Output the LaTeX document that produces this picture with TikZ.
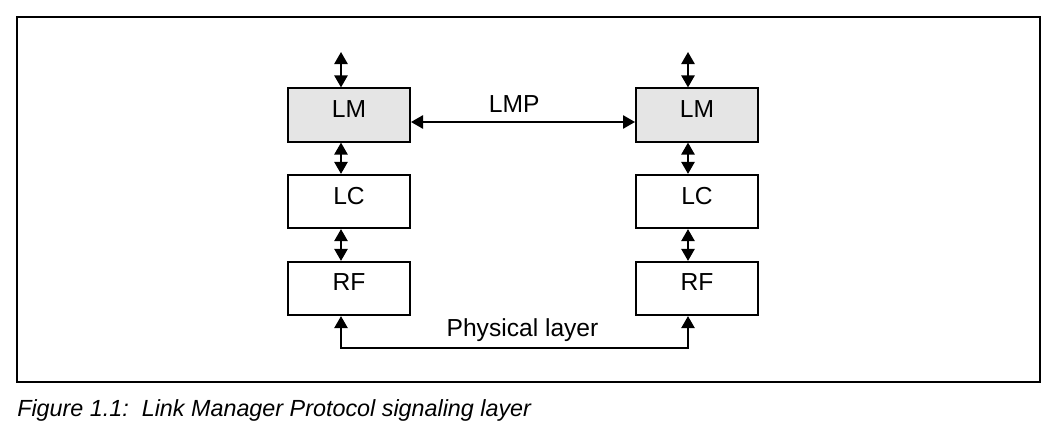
\documentclass[tikz,border=0pt]{standalone}
\usepackage{fontspec}
\setmainfont{Liberation Sans}
\usetikzlibrary{arrows.meta}
\tikzset{
  block/.style={
    rectangle,
    draw,
    draw=black,
    line width=1.4pt,
    minimum width=3.05cm,
    minimum height=1.33cm,
    text depth=0.3cm,
    inner sep=0pt
  }
}
\tikzstyle{arrow} = [{Triangle[length=0.3cm,width=0.33cm]}-{Triangle[length=0.3cm,width=0.33cm]}, line width=1.4pt]
\def\lbl#1{\fontsize{17.5}{20}\selectfont{#1}}

\begin{document}
\begin{tikzpicture}[x=0.025cm, y=-0.025cm]
    \useasboundingbox (0, 0) rectangle (1057, 447);
    \draw[line width=1.4pt] (17, 17) rectangle (1040, 382);
    % left stack
    \node[block, fill=black!10] (lmL) at (349, 115) {\lbl{LM}};
    \node[block] (lcL) at (349, 201.5) {\lbl{LC}};
    \node[block] (rfL) at (349, 288.5) {\lbl{RF}};
    % right stack
    \node[block, fill=black!10] (lmR) at (697, 115) {\lbl{LM}};
    \node[block] (lcR) at (697, 201.5) {\lbl{LC}};
    \node[block] (rfR) at (697, 288.5) {\lbl{RF}};
    \coordinate (topL) at (341, 52);
    \coordinate (topR) at (688, 52);
    \coordinate (physL) at (341, 348);
    \coordinate (physR) at (688, 348);
    \coordinate (lmp) at (520, 122);
    \draw[arrow] (topL) to (lmL.north -| topL);
    \draw[arrow] (lmL.south -| topL) to (lcL.north -| topL);
    \draw[arrow] (lcL.south -| topL) to (rfL.north -| topL);
    \draw[arrow] (topR) to (lmR.north -| topR);
    \draw[arrow] (lmR.south -| topR) to (lcR.north -| topR);
    \draw[arrow] (lcR.south -| topR) to (rfR.north -| topR);
    \draw[arrow] (lmL.east |- lmp) to node [above=0.1cm, xshift=-0.22cm] (lmpText) {\lbl{LMP}} (lmR.west |- lmp);
    \draw[arrow] (rfL.south -| physL) -- (physL) -- node [above=0.02cm, xshift=0.2cm] (physText) {\lbl{Physical layer}} (physR) -- (rfR.south -| physR);
    \node[anchor=base west, inner sep=0pt] (caption) at (17, 416) {\fontsize{16.6}{20}\selectfont\itshape Figure 1.1:\ \ Link Manager Protocol signaling layer};
  \end{tikzpicture}
\end{document}
